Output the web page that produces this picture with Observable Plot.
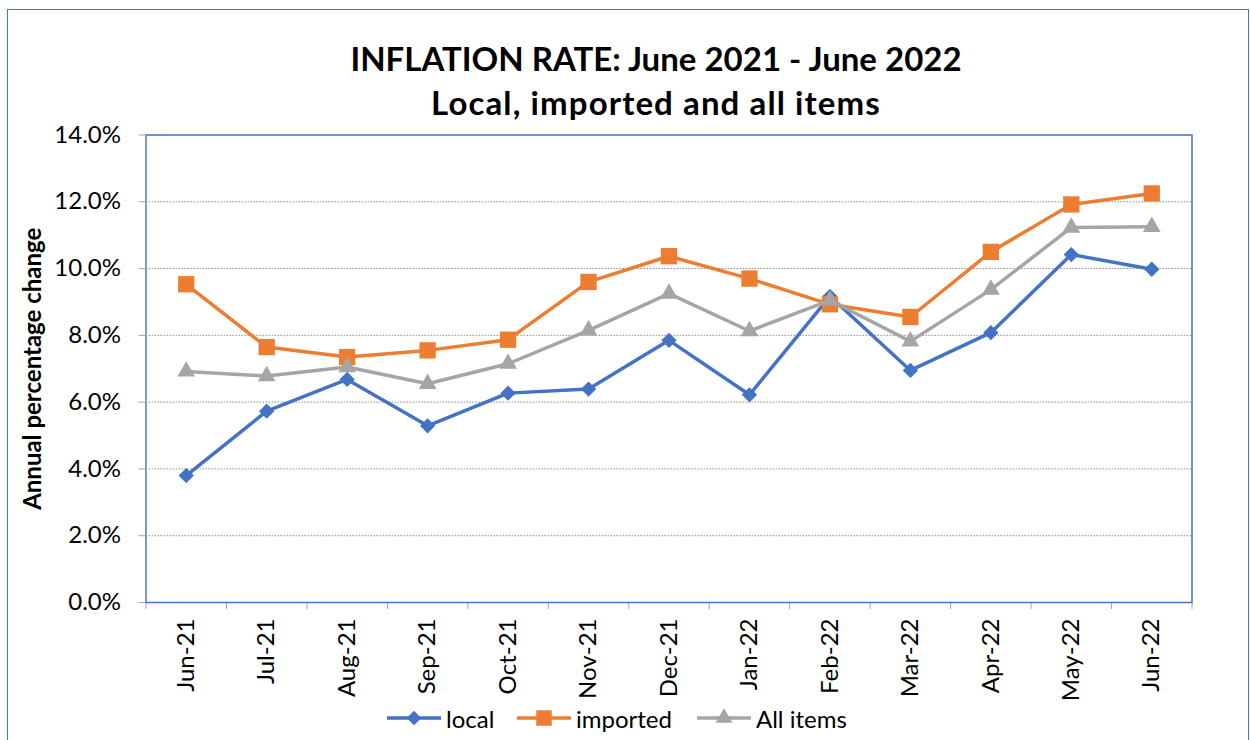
<!DOCTYPE html>
<html>
<head>
<meta charset="utf-8">
<script src="https://cdn.jsdelivr.net/npm/d3@7"></script>
<script src="https://cdn.jsdelivr.net/npm/@observablehq/plot@0.6"></script>
<style>
  html, body { margin: 0; padding: 0; background: #fff; }
  body { font-family: Lato, "Open Sans", sans-serif; }
  #wrap { position: relative; width: 1250px; height: 740px; overflow: hidden; background: #fff; }
  #border { position: absolute; left: 7px; top: 9px; width: 1240px; height: 760px; border: 1.5px solid #4472C4; }
  #title { position: absolute; left: 0; top: 36px; width: 1312px; text-align: center; font-weight: 700; font-size: 33px; line-height: 44px; color: #000; }
  #title .l2 { letter-spacing: 1.1px; }
  #chart { position: absolute; left: 0; top: 110px; }
  .leg { position: absolute; top: 704px; height: 28px; display: flex; align-items: center; font-size: 24px; color: #000; }
  .leg svg { margin-right: 4px; }
</style>
</head>
<body>
<div id="wrap">
  <div id="border"></div>
  <div id="title">INFLATION RATE: June 2021 - June 2022<br><span class="l2">Local, imported and all items</span></div>
  <div id="chart"></div>
  <div id="legend"></div>
</div>
<script>
const months = ["Jun-21","Jul-21","Aug-21","Sep-21","Oct-21","Nov-21","Dec-21","Jan-22","Feb-22","Mar-22","Apr-22","May-22","Jun-22"];
const local = [3.80, 5.73, 6.68, 5.29, 6.27, 6.39, 7.85, 6.22, 9.17, 6.95, 8.08, 10.42, 9.98];
const imported = [9.53, 7.65, 7.35, 7.55, 7.87, 9.60, 10.37, 9.70, 8.93, 8.55, 10.50, 11.92, 12.25];
const allItems = [6.92, 6.78, 7.05, 6.55, 7.15, 8.15, 9.25, 8.13, 9.05, 7.82, 9.37, 11.23, 11.25];
const yTicks = [0, 2, 4, 6, 8, 10, 12, 14];
const seriesNames = ["local", "imported", "All items"];

const colors = {"local": "#4472C4", "imported": "#ED7D31", "All items": "#A5A5A5"};
const symbols = {"local": "diamond2", "imported": "square", "All items": "triangle"};
const radii = {"local": 6.9, "imported": 9.2, "All items": 6.6};

const rows = months.map((m, i) => ({i, month: m, local: local[i], imported: imported[i], all: allItems[i]}));
const bounds = d3.range(-0.5, months.length, 1);
const grid = yTicks.filter(v => v > 0 && v < 14);

const seriesMarks = [["local", "local"], ["imported", "imported"], ["All items", "all"]].flatMap(([name, key]) => [
  Plot.line(rows, {x: "i", y: key, stroke: colors[name], strokeWidth: 3.5, strokeLinejoin: "round"}),
  Plot.dot(rows, {x: "i", y: key, symbol: symbols[name], r: radii[name], fill: colors[name], stroke: "none"})
]);

const chart = Plot.plot({
  width: 1250,
  height: 590,
  marginTop: 24.5,
  marginBottom: 98,
  marginLeft: 145.5,
  marginRight: 58.5,
  style: {fontFamily: "Lato, 'Open Sans', sans-serif", background: "transparent", color: "#000", overflow: "visible"},
  x: {type: "linear", domain: [-0.5, months.length - 0.5], axis: null},
  y: {domain: [0, 14], axis: null},
  marks: [
    Plot.ruleY(grid, {stroke: "#8c8c8c", strokeWidth: 1, strokeDasharray: "1.5,1.5"}),
    Plot.axisY({ticks: yTicks, tickSize: 7, tickPadding: 18, tickFormat: d => d.toFixed(1) + "%", fontSize: 24, stroke: "#a6a6a6", fill: "#000", label: null}),
    Plot.axisX({ticks: bounds, tickSize: 7, tickFormat: () => "", stroke: "#a6a6a6", label: null}),
    Plot.frame({stroke: "#4472C4", strokeWidth: 1.5}),
    Plot.ruleX([-0.5], {stroke: "#8497B0", strokeWidth: 2}),
    Plot.text(rows, {x: "i", y: () => 0, text: "month", rotate: -90, textAnchor: "end", lineAnchor: "middle", dy: 16, fontSize: 24, fill: "#000"}),
    Plot.text(["Annual percentage change"], {frameAnchor: "left", text: d => d, rotate: -90, textAnchor: "middle", lineAnchor: "middle", dx: -112.5, fontSize: 24, fontWeight: "bold", fill: "#000"}),
    ...seriesMarks
  ]
});
document.getElementById("chart").appendChild(chart);

// Legend (HTML, below the chart area)
const legendPos = {"local": 386, "imported": 516, "All items": 696};
const legend = document.getElementById("legend");
for (const name of seriesNames) {
  const item = document.createElement("div");
  item.className = "leg";
  item.style.left = legendPos[name] + "px";
  const s = d3.create("svg").attr("width", 56).attr("height", 24);
  s.append("line").attr("x1", 1).attr("x2", 55).attr("y1", 12).attr("y2", 12)
    .attr("stroke", colors[name]).attr("stroke-width", 3.5);
  const sym = {"diamond2": d3.symbolDiamond2, "square": d3.symbolSquare, "triangle": d3.symbolTriangle}[symbols[name]];
  s.append("path").attr("transform", "translate(28,12)")
    .attr("d", d3.symbol(sym, Math.PI * radii[name] * radii[name] * 0.9)())
    .attr("fill", colors[name]);
  item.appendChild(s.node());
  const t = document.createElement("span");
  t.textContent = name;
  item.appendChild(t);
  legend.appendChild(item);
}
</script>
</body>
</html>
